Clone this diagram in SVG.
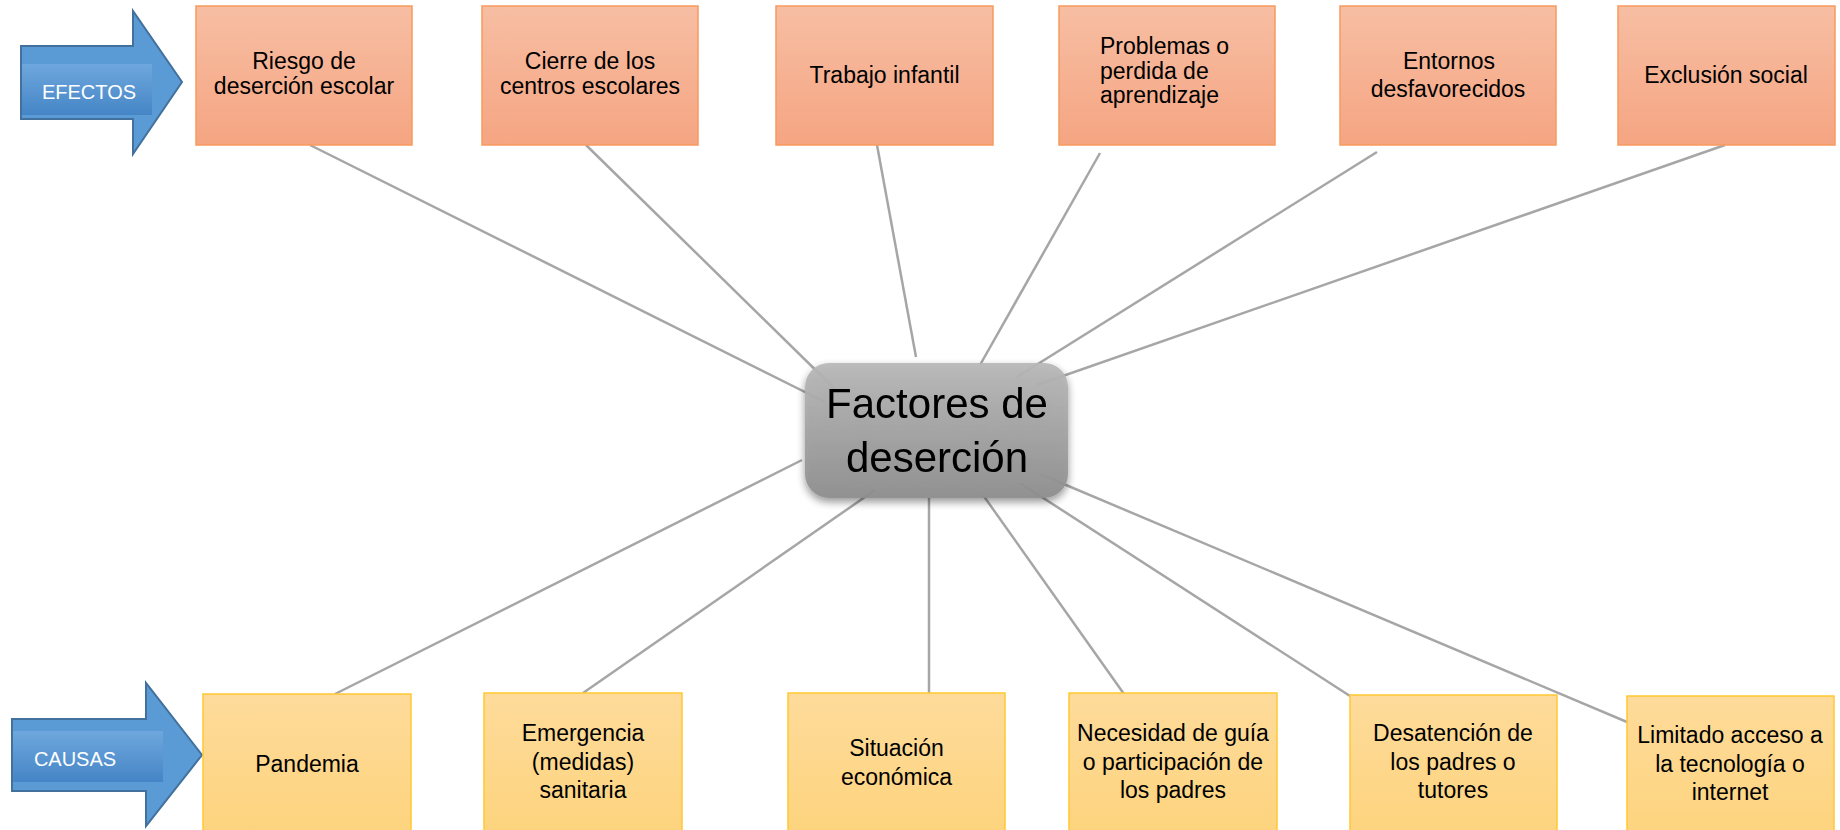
<svg xmlns="http://www.w3.org/2000/svg" width="1840" height="830" viewBox="0 0 1840 830">
<defs>
<linearGradient id="gTop" x1="0" y1="0" x2="0" y2="1"><stop offset="0" stop-color="#f7bea3"/><stop offset="1" stop-color="#f5a582"/></linearGradient>
<linearGradient id="gBot" x1="0" y1="0" x2="0" y2="1"><stop offset="0" stop-color="#fedb9b"/><stop offset="1" stop-color="#fdd37b"/></linearGradient>
<linearGradient id="gNode" x1="0" y1="0" x2="0" y2="1"><stop offset="0" stop-color="#b8b8b8"/><stop offset="1" stop-color="#8e8e8e"/></linearGradient>
<linearGradient id="gBand" x1="0" y1="0" x2="0" y2="1"><stop offset="0" stop-color="#6ea7dd"/><stop offset="1" stop-color="#4585c6"/></linearGradient>
<filter id="sh" x="-20%" y="-20%" width="140%" height="150%"><feGaussianBlur in="SourceAlpha" stdDeviation="4"/><feOffset dx="0" dy="4"/><feComponentTransfer><feFuncA type="linear" slope="0.45"/></feComponentTransfer><feMerge><feMergeNode/><feMergeNode in="SourceGraphic"/></feMerge></filter>
</defs>
<style>
.top{fill:url(#gTop);stroke:#f79a5c;stroke-width:1.5}
.bot{fill:url(#gBot);stroke:#ffc832;stroke-width:1.5}
.t{font-family:"Liberation Sans",Arial,sans-serif;font-size:23px;fill:#000;text-anchor:middle}
.tl{text-anchor:start}
.arrow{fill:#5b9bd5;stroke:#41719c;stroke-width:2}
.at{font-family:"Liberation Sans",Arial,sans-serif;font-size:20px;fill:#fff;text-anchor:middle}
.c line{stroke:#a6a6a6;stroke-width:2.5}
.big{font-family:"Liberation Sans",Arial,sans-serif;font-size:42px;fill:#000;text-anchor:middle}
</style>
<rect width="1840" height="830" fill="#fff"/>

<g id="connectors" class="c">
<line x1="310" y1="145" x2="825" y2="402"/>
<line x1="586" y1="145" x2="838" y2="392"/>
<line x1="877" y1="145" x2="916" y2="357"/>
<line x1="1100" y1="153" x2="980" y2="365"/>
<line x1="1377" y1="152" x2="1017" y2="377"/>
<line x1="1725" y1="145" x2="1037" y2="385"/>
<line x1="335" y1="694" x2="802" y2="460"/>
<line x1="583" y1="693" x2="875" y2="490"/>
<line x1="929" y1="693" x2="929" y2="498"/>
<line x1="1124" y1="694" x2="983" y2="495"/>
<line x1="1350" y1="696" x2="1020" y2="483"/>
<line x1="1627" y1="722" x2="1040" y2="474"/>
</g>

<g id="arrow-efectos">
<path class="arrow" d="M21,46 H133 V11 L182,82 L133,154 V119 H21 Z"/>
<rect x="22" y="64" width="130" height="51" fill="url(#gBand)"/>
<text class="at" x="89" y="99">EFECTOS</text>
</g>
<g id="arrow-causas">
<path class="arrow" d="M12,719 H146 V683 L202,755 L146,826 V791 H12 Z"/>
<rect x="13" y="731" width="150" height="51" fill="url(#gBand)"/>
<text class="at" x="75" y="766">CAUSAS</text>
</g>

<g id="e1"><rect class="top" x="196" y="6" width="216" height="139"/><text class="t" x="304" y="69">Riesgo de</text><text class="t" x="304" y="94">deserción escolar</text></g>
<g id="e2"><rect class="top" x="482" y="6" width="216" height="139"/><text class="t" x="590" y="69">Cierre de los</text><text class="t" x="590" y="94">centros escolares</text></g>
<g id="e3"><rect class="top" x="776" y="6" width="217" height="139"/><text class="t" x="884.5" y="83">Trabajo infantil</text></g>
<g id="e4"><rect class="top" x="1059" y="6" width="216" height="139"/><text class="t tl" x="1100" y="54">Problemas o</text><text class="t tl" x="1100" y="79">perdida de</text><text class="t tl" x="1100" y="103">aprendizaje</text></g>
<g id="e5"><rect class="top" x="1340" y="6" width="216" height="139"/><text class="t" x="1449" y="69">Entornos</text><text class="t" x="1448" y="97">desfavorecidos</text></g>
<g id="e6"><rect class="top" x="1618" y="6" width="217" height="139"/><text class="t" x="1726" y="83">Exclusión social</text></g>

<g id="center" filter="url(#sh)">
<rect x="805" y="363" width="263" height="135" rx="24" fill="url(#gNode)" opacity="0.93"/>
<text class="big" x="937" y="418">Factores de</text>
<text class="big" x="937" y="472">deserción</text>
</g>

<g id="c1"><rect class="bot" x="203" y="694" width="208" height="150"/><text class="t" x="307" y="772">Pandemia</text></g>
<g id="c2"><rect class="bot" x="484" y="693" width="198" height="150"/><text class="t" x="583" y="741">Emergencia</text><text class="t" x="583" y="770">(medidas)</text><text class="t" x="583" y="798">sanitaria</text></g>
<g id="c3"><rect class="bot" x="788" y="693" width="217" height="150"/><text class="t" x="896.5" y="756">Situación</text><text class="t" x="896.5" y="785">económica</text></g>
<g id="c4"><rect class="bot" x="1069" y="693" width="208" height="150"/><text class="t" x="1173" y="741">Necesidad de guía</text><text class="t" x="1173" y="770">o participación de</text><text class="t" x="1173" y="798">los padres</text></g>
<g id="c5"><rect class="bot" x="1350" y="695" width="207" height="150"/><text class="t" x="1453" y="741">Desatención de</text><text class="t" x="1453" y="770">los padres o</text><text class="t" x="1453" y="798">tutores</text></g>
<g id="c6"><rect class="bot" x="1627" y="696" width="207" height="150"/><text class="t" x="1730" y="743">Limitado acceso a</text><text class="t" x="1730" y="772">la tecnología o</text><text class="t" x="1730" y="800">internet</text></g>
</svg>
